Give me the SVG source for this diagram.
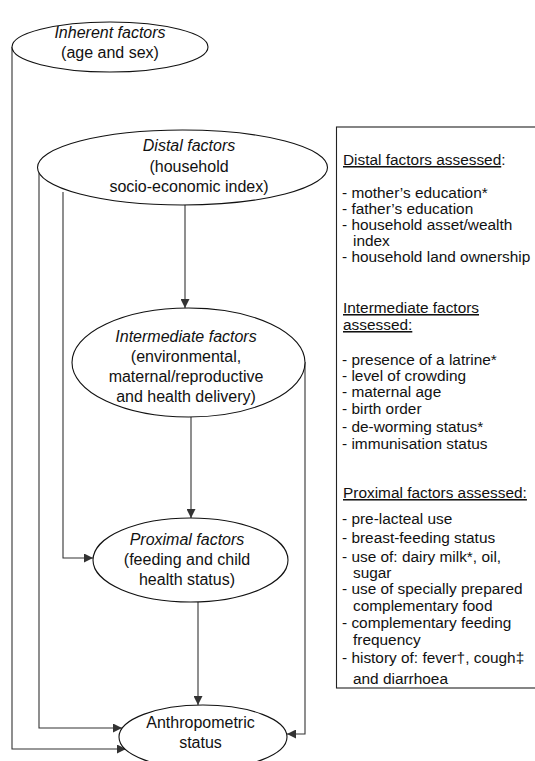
<svg xmlns="http://www.w3.org/2000/svg" width="535" height="761" viewBox="0 0 535 761">
<defs>
<marker id="ah" viewBox="0 0 10 10" refX="10" refY="5" markerWidth="10" markerHeight="9" markerUnits="userSpaceOnUse" orient="auto">
<path d="M0,0 L10,5 L0,10 z" fill="#333"/>
</marker>
<style>
.node ellipse{fill:#fff;stroke:#111;stroke-width:1.1}
.nt{font-family:"Liberation Sans",Arial,sans-serif;font-size:16px;fill:#111;text-anchor:middle}
.it{font-style:italic}
.conn path{fill:none;stroke:#333;stroke-width:1.1}
.arr{marker-end:url(#ah)}
.bt{font-family:"Liberation Sans",Arial,sans-serif;font-size:15.4px;fill:#111}
.u{text-decoration:underline}
</style>
</defs>
<rect width="535" height="761" fill="#fff"/>

<g class="conn">
<path class="arr" d="M12,47 V749 H126"/>
<path class="arr" d="M39,172 V728 H122"/>
<path class="arr" d="M63,192 V558 H93"/>
<path class="arr" d="M185,205 V308"/>
<path class="arr" d="M191,417 V518"/>
<path class="arr" d="M198,602 V705"/>
<path class="arr" d="M305,362 V734 H287"/>
</g>

<g id="inherent" class="node">
<ellipse cx="110" cy="47" rx="98" ry="25"/>
<text class="nt it" x="110" y="38">Inherent factors</text>
<text class="nt" x="110" y="58">(age and sex)</text>
</g>

<g id="distal" class="node">
<ellipse cx="182.5" cy="167.5" rx="145" ry="37.5"/>
<text class="nt it" x="189" y="151">Distal factors</text>
<text class="nt" x="189" y="172">(household</text>
<text class="nt" x="189" y="192">socio-economic index)</text>
</g>

<g id="intermediate" class="node">
<ellipse cx="188.5" cy="362.5" rx="116.5" ry="54.5"/>
<text class="nt it" x="186" y="342">Intermediate factors</text>
<text class="nt" x="186" y="362">(environmental,</text>
<text class="nt" x="186" y="382">maternal/reproductive</text>
<text class="nt" x="186" y="402">and health delivery)</text>
</g>

<g id="proximal" class="node">
<ellipse cx="190.5" cy="560" rx="97.5" ry="42"/>
<text class="nt it" x="187" y="545">Proximal factors</text>
<text class="nt" x="187" y="565">(feeding and child</text>
<text class="nt" x="187" y="585">health status)</text>
</g>

<g id="anthropometric" class="node">
<ellipse cx="203" cy="737" rx="84" ry="32"/>
<text class="nt" x="200.5" y="728">Anthropometric</text>
<text class="nt" x="200.5" y="748">status</text>
</g>

<g id="legend">
<rect x="336.5" y="127" width="210" height="561" fill="#fff" stroke="#222" stroke-width="1.1"/>
<text class="bt" x="343" y="165"><tspan class="u">Distal factors assessed</tspan>:</text>
<text class="bt" x="342" y="198">- mother’s education*</text>
<text class="bt" x="342" y="214">- father’s education</text>
<text class="bt" x="342" y="230">- household asset/wealth</text>
<text class="bt" x="353" y="246">index</text>
<text class="bt" x="342" y="262">- household land ownership</text>
<text class="bt u" x="343" y="313">Intermediate factors</text>
<text class="bt u" x="343" y="330">assessed:</text>
<text class="bt" x="342" y="365">- presence of a latrine*</text>
<text class="bt" x="342" y="381">- level of crowding</text>
<text class="bt" x="342" y="397">- maternal age</text>
<text class="bt" x="342" y="414">- birth order</text>
<text class="bt" x="342" y="432">- de-worming status*</text>
<text class="bt" x="342" y="449">- immunisation status</text>
<text class="bt u" x="343" y="498">Proximal factors assessed:</text>
<text class="bt" x="342" y="524">- pre-lacteal use</text>
<text class="bt" x="342" y="543">- breast-feeding status</text>
<text class="bt" x="342" y="562">- use of: dairy milk*, oil,</text>
<text class="bt" x="353" y="578">sugar</text>
<text class="bt" x="342" y="594">- use of specially prepared</text>
<text class="bt" x="353" y="611">complementary food</text>
<text class="bt" x="342" y="628">- complementary feeding</text>
<text class="bt" x="353" y="645">frequency</text>
<text class="bt" x="342" y="663">- history of: fever†, cough‡</text>
<text class="bt" x="353" y="684">and diarrhoea</text>
</g>
</svg>
